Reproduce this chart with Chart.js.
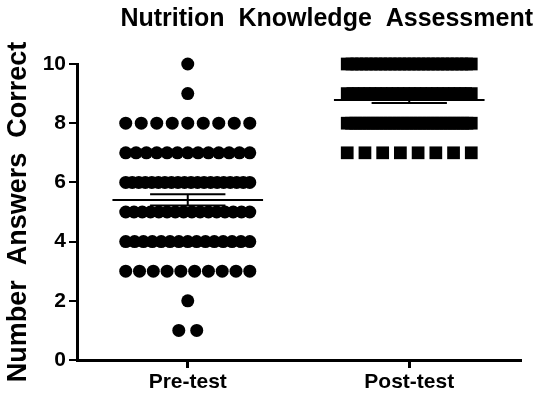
<!DOCTYPE html>
<html>
<head>
<meta charset="utf-8">
<script src="https://cdn.jsdelivr.net/npm/chart.js@4.4.0/dist/chart.umd.min.js"></script>
<style>
  html, body { margin: 0; padding: 0; background: #fff; }
  #wrap { width: 537px; height: 394px; }
</style>
</head>
<body>
<div id="wrap"><canvas id="scoreChart"></canvas></div>
<script>
// data: how many students got each score, per test
const groups = ["Pre-test", "Post-test"];
const scoreValues = [10, 9, 8, 7, 6, 5, 4, 3, 2, 1];
const preCounts = [1, 1, 9, 13, 20, 16, 15, 10, 1, 2];
const postCounts = [27, 23, 30, 8, 0, 0, 0, 0, 0, 0];
const yTicks = [0, 2, 4, 6, 8, 10];

// layout of a row of dots (category units)
const ROW_WIDTH = 0.56;
const MAX_GAP = 0.081;
const MEAN_HALF = 0.34;
const CAP_HALF = 0.17;
const FONT = "'Liberation Sans', Arial, sans-serif";

function rowPoints(counts, center) {
  const pts = [];
  counts.forEach((n, i) => {
    if (!n) return;
    const gap = n > 1 ? Math.min(MAX_GAP, ROW_WIDTH / (n - 1)) : 0;
    for (let k = 0; k < n; k++) {
      pts.push({ x: center + (k - (n - 1) / 2) * gap, y: scoreValues[i] });
    }
  });
  return pts;
}

function stats(counts) {
  let n = 0, sum = 0;
  counts.forEach((c, i) => { n += c; sum += c * scoreValues[i]; });
  const mean = sum / n;
  let ss = 0;
  counts.forEach((c, i) => { ss += c * Math.pow(scoreValues[i] - mean, 2); });
  const sem = Math.sqrt(ss / (n - 1)) / Math.sqrt(n);
  return { mean, sem };
}

function segment(x1, y1, x2, y2, width) {
  return {
    data: [{ x: x1, y: y1 }, { x: x2, y: y2 }],
    showLine: true,
    borderColor: "#000",
    borderWidth: width,
    pointRadius: 0,
    clip: false,
    order: 0,
  };
}

function summaryLines(counts, center) {
  const s = stats(counts);
  const hi = s.mean + s.sem, lo = s.mean - s.sem;
  return [
    segment(center - MEAN_HALF, s.mean, center + MEAN_HALF, s.mean, 2),
    segment(center - CAP_HALF, hi, center + CAP_HALF, hi, 2),
    segment(center - CAP_HALF, lo, center + CAP_HALF, lo, 2),
    segment(center, lo, center, hi, 2),
  ];
}

const ctx = document.getElementById("scoreChart").getContext("2d");
new Chart(ctx, {
  type: "scatter",
  data: {
    datasets: [
      {
        label: "Pre-test",
        data: rowPoints(preCounts, 0),
        pointStyle: "circle",
        pointRadius: 6.5,
        backgroundColor: "#000",
        borderWidth: 0,
        clip: false,
        order: 1,
      },
      {
        label: "Post-test",
        data: rowPoints(postCounts, 1),
        pointStyle: "rect",
        pointRadius: 9,
        backgroundColor: "#000",
        borderWidth: 0,
        clip: false,
        order: 1,
      },
      ...summaryLines(preCounts, 0),
      ...summaryLines(postCounts, 1),
    ],
  },
  options: {
    responsive: true,
    maintainAspectRatio: false,
    animation: false,
    layout: { padding: { left: 0, right: 4, top: 0, bottom: 0 } },
    plugins: {
      legend: { display: false },
      tooltip: { enabled: false },
      title: {
        display: true,
        text: "Nutrition  Knowledge  Assessment",
        align: "end",
        color: "#000",
        font: { family: FONT, size: 25, weight: "bold" },
        padding: { top: 4, bottom: 30 },
      },
    },
    scales: {
      x: {
        type: "linear",
        min: -0.5,
        max: 1.5,
        afterBuildTicks: (scale) => {
          scale.ticks = groups.map((g, i) => ({ value: i }));
        },
        afterFit: (scale) => { scale.height = 34; },
        ticks: {
          callback: (value) => groups[value],
          color: "#000",
          font: { family: FONT, size: 21, weight: "bold" },
          padding: 2,
        },
        grid: { drawOnChartArea: false, drawTicks: true, tickLength: 8, color: "#000", lineWidth: 3 },
        border: { display: true, color: "#000", width: 3 },
      },
      y: {
        min: 0,
        max: 10,
        afterBuildTicks: (scale) => {
          scale.ticks = yTicks.map((v) => ({ value: v }));
        },
        afterFit: (scale) => { scale.width = 77; },
        ticks: {
          color: "#000",
          font: { family: FONT, size: 21, weight: "bold" },
          padding: 3,
        },
        grid: { drawOnChartArea: false, drawTicks: true, tickLength: 8, color: "#000", lineWidth: 2 },
        border: { display: true, color: "#000", width: 3 },
        title: {
          display: true,
          text: "Number  Answers  Correct",
          color: "#000",
          font: { family: FONT, size: 27, weight: "bold" },
          padding: { top: 2, bottom: 4 },
        },
      },
      // empty strip on the right so the title can run past the plot
      yRight: {
        position: "right",
        display: true,
        min: 0,
        max: 10,
        afterFit: (scale) => { scale.width = 13; },
        ticks: { display: false },
        grid: { display: false },
        border: { display: false },
      },
    },
  },
});
</script>
</body>
</html>
